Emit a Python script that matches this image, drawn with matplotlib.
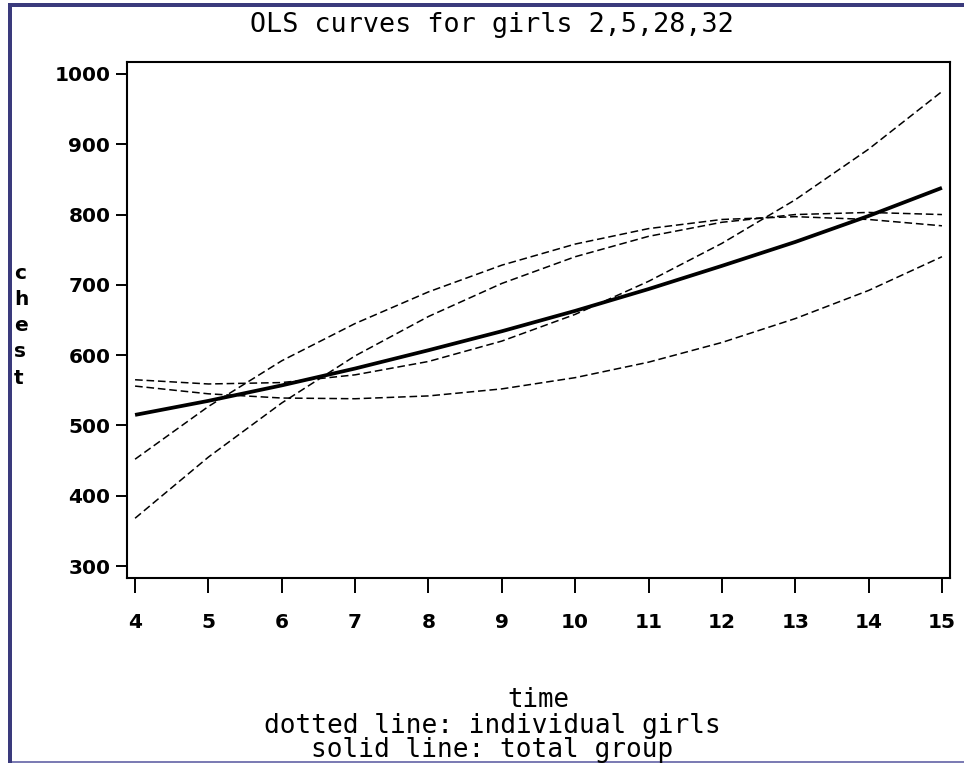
import matplotlib
matplotlib.use("Agg")
import matplotlib.pyplot as plt
from matplotlib.patches import Rectangle

# time points (years)
time = [4, 5, 6, 7, 8, 9, 10, 11, 12, 13, 14, 15]

# OLS fitted chest values
girl_a = [368, 455, 532, 599, 655, 702, 740, 769, 789, 800, 803, 800]
girl_b = [452, 527, 592, 645, 690, 728, 758, 780, 793, 797, 793, 784]
girl_c = [565, 559, 561, 572, 591, 620, 658, 705, 759, 821, 893, 975]
girl_d = [556, 545, 539, 538, 542, 552, 568, 590, 618, 652, 692, 740]
group = [515, 535, 557, 581, 607, 634, 663, 694, 727, 761, 798, 838]

girls = [girl_a, girl_b, girl_c, girl_d]

xticks = list(range(4, 16))
yticks = list(range(300, 1001, 100))

W, H = 964, 763
fig = plt.figure(figsize=(W / 100, H / 100), dpi=100)
fig.patch.set_facecolor("white")

ax = fig.add_axes([127 / W, 1 - 578 / H, (950 - 127) / W, (578 - 62) / H])

for g in girls:
    ax.plot(time, g, color="black", lw=1.1, dashes=(5, 2.5))
ax.plot(time, group, color="black", lw=2.7, solid_capstyle="butt")

ax.set_xlim(3.89, 15.11)
ax.set_ylim(283, 1017)
ax.set_xticks(xticks)
ax.set_yticks(yticks)
ax.set_xticklabels([str(v) for v in xticks], fontsize=14.5, fontweight="bold")
ax.set_yticklabels([str(v) for v in yticks], fontsize=14.5, fontweight="bold")
ax.tick_params(axis="x", direction="out", length=11, width=1.4, pad=14)
ax.tick_params(axis="y", direction="out", length=8, width=1.4, pad=4)
for s in ax.spines.values():
    s.set_linewidth(1.5)

mono = "DejaVu Sans Mono"
fig.text(492 / W, 1 - 32 / H, "OLS curves for girls 2,5,28,32", ha="center",
         va="baseline", family=mono, fontsize=19.3)

# vertical stacked y label
for i, ch in enumerate("chest"):
    fig.text(14 / W, 1 - (273 + i * 26.3) / H, ch, ha="left", va="center",
             fontsize=14.5, fontweight="bold")

fig.text(538 / W, 1 - 700 / H, "time", ha="center", va="center",
         family=mono, fontsize=18.5)
fig.text(492 / W, 1 - 733 / H, "dotted line: individual girls", ha="center",
         va="baseline", family=mono, fontsize=18.8)
fig.text(492 / W, 1 - 757 / H, "solid line: total group", ha="center",
         va="baseline", family=mono, fontsize=18.8)

# window frame
navy = "#3a3a7c"
fig.add_artist(Rectangle((8 / W, 0), 4 / W, 1 - 3 / H, transform=fig.transFigure,
                         color=navy, lw=0))
fig.add_artist(Rectangle((8 / W, 1 - 7 / H), 1, 4 / H, transform=fig.transFigure,
                         color=navy, lw=0))
fig.add_artist(Rectangle((12 / W, 0), 1, 2 / H, transform=fig.transFigure,
                         color="#7c7cb4", lw=0))

fig.savefig("out.png", dpi=100)
